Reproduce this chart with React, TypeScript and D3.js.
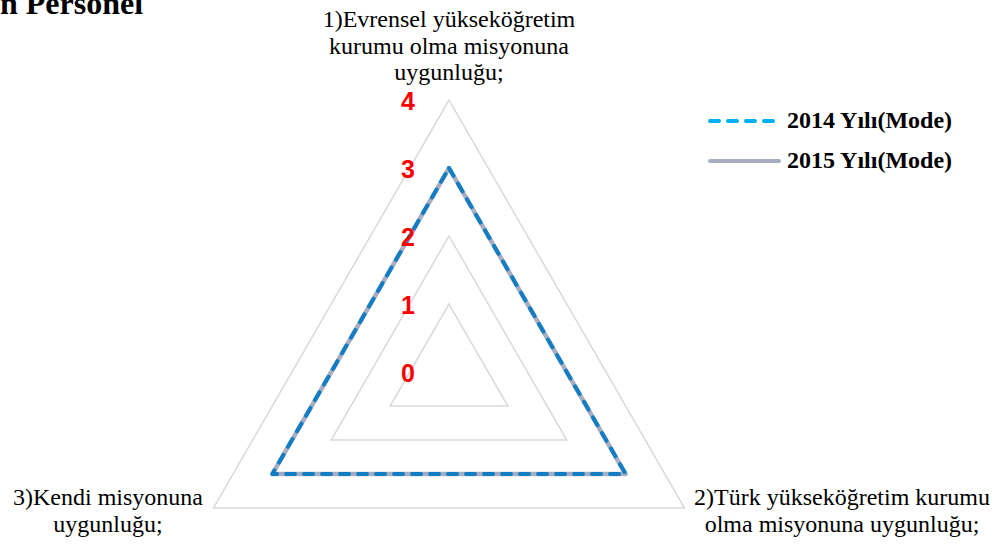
import React from "react";
import * as d3 from "d3";

const axes = [
  ["1)Evrensel yükseköğretim", "kurumu olma misyonuna", "uygunluğu;"],
  ["2)Türk yükseköğretim kurumu", "olma misyonuna uygunluğu;"],
  ["3)Kendi misyonuna", "uygunluğu;"],
];
const ticks = [0, 1, 2, 3, 4];
const series2014 = [3, 3, 3];
const series2015 = [3, 3, 3];
const seriesNames = ["2014 Yılı(Mode)", "2015 Yılı(Mode)"];

const W = 1003, H = 545;
const cx = 449, cy = 372;
const r = d3.scaleLinear().domain([0, 4]).range([0, 272]);
const angle = (i: number) => (i * 2 * Math.PI) / 3 - Math.PI / 2;
const pt = (i: number, v: number): [number, number] => [
  cx + r(v) * Math.cos(angle(i)),
  cy + r(v) * Math.sin(angle(i)),
];
const poly = (vals: number[]) =>
  d3.line().curve(d3.curveLinearClosed)(vals.map((v, i) => pt(i, v))) as string;

const labelPos = [
  { x: 449, y: 27 },
  { x: 842, y: 505 },
  { x: 108, y: 505 },
];

export default function App() {
  return (
    <svg width={W} height={H} style={{ display: "block", position: "absolute", left: 0, top: 0 }}>
      <rect width={W} height={H} fill="#fff" />
      <text x={0} y={14} fontFamily="Liberation Serif" fontWeight="bold" fontSize={32} fill="#000">n Personel</text>
      {ticks.slice(1).map((t) => (
        <path key={t} d={poly(axes.map(() => t))} fill="none" stroke="#D9D9D9" strokeWidth={1.5} />
      ))}
      <path d={poly(series2015)} fill="none" stroke="#A6AEC2" strokeWidth={4.5} strokeLinejoin="round" />
      <path d={poly(series2014)} fill="none" stroke="#137DC3" strokeWidth={4} strokeDasharray="9 9" strokeLinecap="round" strokeLinejoin="round" />
      {ticks.map((t) => (
        <text key={t} x={408} y={cy - r(t) + 10} textAnchor="middle" fontFamily="Liberation Sans" fontWeight="bold" fontSize={25} fill="#FF0000">{t}</text>
      ))}
      {axes.map((lines, i) => (
        <text key={i} fontFamily="Liberation Serif" fontSize={24} fill="#000" textAnchor="middle">
          {lines.map((l, j) => (
            <tspan key={j} x={labelPos[i].x} y={labelPos[i].y + j * 26.5}>{l}</tspan>
          ))}
        </text>
      ))}
      {seriesNames.map((n, i) => (
        <g key={n}>
          <line x1={710} x2={779} y1={121 + i * 40} y2={121 + i * 40}
            stroke={i === 0 ? "#00B0F0" : "#A6AEC2"} strokeWidth={4}
            strokeDasharray={i === 0 ? "9 9" : undefined} strokeLinecap="round" />
          <text x={787} y={128 + i * 40} fontFamily="Liberation Serif" fontWeight="bold" fontSize={24} fill="#000">{n}</text>
        </g>
      ))}
    </svg>
  );
}
